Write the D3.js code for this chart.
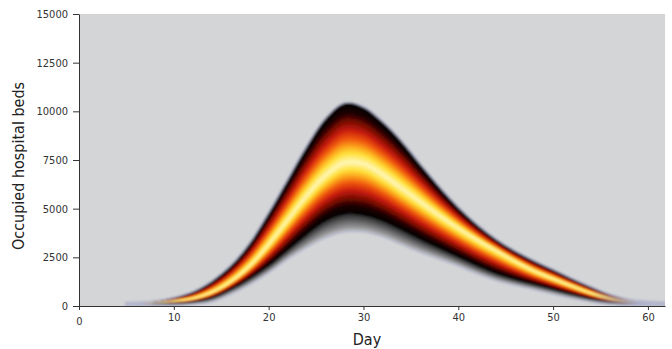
<!DOCTYPE html>
<html>
<head>
<meta charset="utf-8">
<script src="https://cdn.jsdelivr.net/npm/d3@7"></script>
<style>
  html, body { margin: 0; padding: 0; background: #ffffff; }
  svg { display: block; }
  .axis text { font-family: "DejaVu Sans Condensed", "DejaVu Sans", sans-serif; font-size: 11px; fill: #333; }
  .axis path, .axis line { stroke: #333; }
  .title { font-family: "DejaVu Sans Condensed", "DejaVu Sans", sans-serif; font-size: 16px; fill: #222; }
</style>
</head>
<body>
<svg id="chart" width="672" height="349"></svg>
<script>
// ---- data ----
const days   = [5, 8, 10, 12, 14, 16, 18, 20, 22, 24, 26, 28, 30, 32, 34, 36, 38, 40, 42, 44, 46, 48, 50, 52, 54, 56, 58, 60, 62];
// outer (upper) edge of the trajectory envelope
const upperEdge = [140, 220, 400, 700, 1250, 2050, 3200, 4750, 6450, 8150, 9600, 10400, 10200, 9450, 8450, 7250, 6100, 5050, 4150, 3400, 2800, 2300, 1850, 1380, 950, 560, 300, 200, 160];
// densest (brightest) trajectories
const coreLine  = [120, 170, 250, 380, 700, 1250, 2050, 3150, 4400, 5650, 6700, 7350, 7300, 6750, 6050, 5350, 4650, 4000, 3400, 2850, 2300, 1800, 1400, 1020, 660, 380, 210, 150, 130];
// lower edge of the dense (coloured) part
const lowerEdge = [100, 140, 150, 220, 420, 850, 1400, 2050, 2850, 3650, 4350, 4700, 4650, 4350, 3900, 3400, 2950, 2500, 2050, 1650, 1350, 1100, 850, 600, 370, 200, 130, 110, 100];
// lower edge of the sparse grey fringe
const fringeEdge = [40, 40, 60, 120, 250, 650, 1150, 1750, 2450, 3050, 3550, 3850, 3850, 3600, 3200, 2800, 2450, 2100, 1700, 1350, 1100, 880, 650, 430, 250, 110, 50, 40, 30];

const xTicks = [0, 10, 20, 30, 40, 50, 60];
const yTicks = [0, 2500, 5000, 7500, 10000, 12500, 15000];

// ---- layout ----
const svg = d3.select("#chart");
const pL = 79, pR = 665, pT = 14, pB = 306;

const x = d3.scaleLinear().domain([0, 61.8]).range([pL, pR]);
const y = d3.scaleLinear().domain([0, 15000]).range([pB, pT]);

const defs = svg.append("defs");
defs.append("clipPath").attr("id", "plotclip")
  .append("rect").attr("x", pL).attr("y", pT).attr("width", pR - pL).attr("height", pB - pT);
const blur = defs.append("filter").attr("id", "soft")
  .attr("x", "-5%").attr("y", "-5%").attr("width", "110%").attr("height", "110%");
blur.append("feGaussianBlur").attr("stdDeviation", 0.8);

// horizontal fade of the dense part into the sparse tails
const fade = defs.append("linearGradient").attr("id", "fadeGrad")
  .attr("gradientUnits", "userSpaceOnUse")
  .attr("x1", pL).attr("x2", pR).attr("y1", 0).attr("y2", 0);
[[6.5, 0], [11, 1], [54, 1], [59, 0]].forEach(([d, o]) => {
  fade.append("stop").attr("offset", (x(d) - pL) / (pR - pL)).attr("stop-color", "#fff").attr("stop-opacity", o);
});
defs.append("mask").attr("id", "fadeMask").attr("maskUnits", "userSpaceOnUse")
  .attr("x", 0).attr("y", 0).attr("width", 672).attr("height", 349)
  .append("rect").attr("x", pL).attr("y", pT).attr("width", pR - pL).attr("height", pB - pT)
  .attr("fill", "url(#fadeGrad)");

svg.append("rect").attr("x", pL).attr("y", pT).attr("width", pR - pL).attr("height", pB - pT)
  .attr("fill", "#d4d5d7");

const rows = days.map((d, i) => ({
  d, up: upperEdge[i], core: coreLine[i], lo: lowerEdge[i], fr: fringeEdge[i]
}));

const g = svg.append("g").attr("clip-path", "url(#plotclip)")
  .append("g").attr("filter", "url(#soft)");

const area = (fTop, fBot) => d3.area()
  .x(r => x(r.d))
  .y0(r => y(fBot(r)))
  .y1(r => y(fTop(r)))
  .curve(d3.curveCatmullRom.alpha(0.5));

// sparse bluish haze (visible in the tails) with a pale rim
g.append("path").datum(rows)
  .attr("d", area(r => r.up, r => r.fr))
  .attr("fill", "#8f92b2").attr("stroke", "#b4b7cc").attr("stroke-width", 3);

const dense = g.append("g").attr("mask", "url(#fadeMask)");

// grey fringe below the dense band
const greyCol = d3.scaleLinear().domain([0, 0.15, 0.45, 1]).range(["#b9babd", "#9a9a9c", "#737375", "#262626"]);
const NG = 24;
for (let i = 0; i < NG; i++) {
  const t = i / NG;
  dense.append("path").datum(rows)
    .attr("d", area(r => r.core, r => r.fr + t * (r.lo - r.fr)))
    .attr("fill", greyCol(t));
}

// heat-coloured density bands, outer (black) to core (pale yellow)
const heat = d3.scaleLinear()
  .domain([0, 0.16, 0.3, 0.45, 0.6, 0.72, 0.84, 1])
  .range(["#000000", "#1e0200", "#780c06", "#c81e0a", "#f05a10", "#fba21c", "#ffe03a", "#fff8c0"]);
const NH = 60;
for (let i = 0; i < NH; i++) {
  const t = i / NH;
  dense.append("path").datum(rows)
    .attr("d", area(r => r.up + t * (r.core - r.up), r => r.lo + t * (r.core - r.lo)))
    .attr("fill", heat(t));
}

// ---- axes ----
svg.append("g").attr("class", "axis")
  .attr("transform", `translate(${pL},0)`)
  .call(d3.axisLeft(y).tickValues(yTicks).tickFormat(d3.format("d")).tickSize(6).tickSizeOuter(0).tickPadding(5));

const xAxis = svg.append("g").attr("class", "axis")
  .attr("transform", `translate(0,${pB})`)
  .call(d3.axisBottom(x).tickValues(xTicks).tickFormat(d3.format("d")).tickSize(4).tickSizeOuter(0).tickPadding(3));
xAxis.selectAll(".tick").filter(d => d === 0).select("text").attr("dy", "1.05em");

svg.append("text").attr("class", "title")
  .attr("transform", `translate(24,${(pT + pB) / 2 + 6}) rotate(-90)`)
  .attr("text-anchor", "middle")
  .text("Occupied hospital beds");

svg.append("text").attr("class", "title")
  .attr("x", 367).attr("y", 345)
  .attr("text-anchor", "middle")
  .text("Day");
</script>
</body>
</html>
